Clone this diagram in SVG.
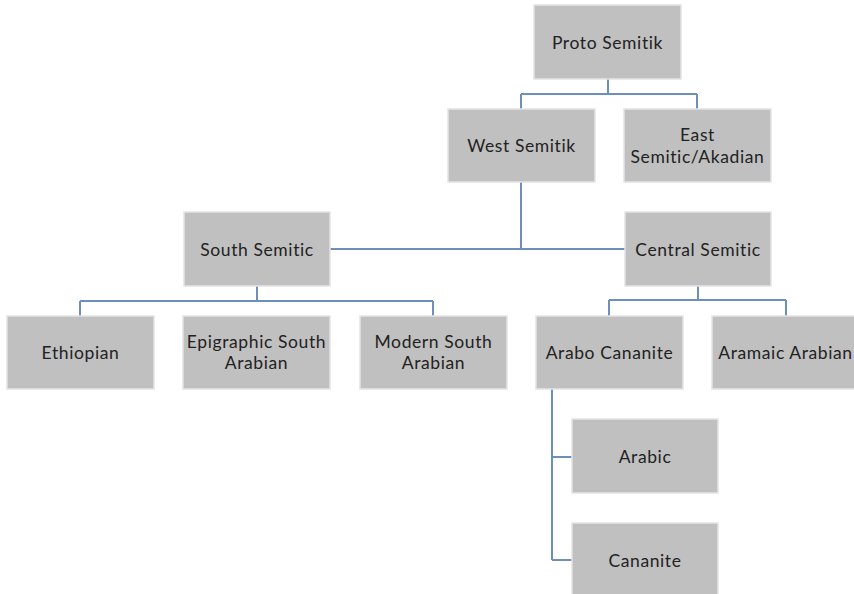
<svg xmlns="http://www.w3.org/2000/svg" width="854" height="594" viewBox="0 0 854 594">
  <style>
    .box { fill: #c0c0c0; stroke: #e4e4e4; stroke-width: 1.5; }
    .lbl { font-family: Lato, "Open Sans", "Liberation Sans", sans-serif; font-size: 17.5px; letter-spacing: 0.6px; fill: #222222; text-anchor: middle; dominant-baseline: central; }
    .edge { fill: none; stroke: #6c90bb; stroke-width: 2; }
  </style>
  <rect width="854" height="594" fill="#ffffff"/>

  <g id="connectors">
    <path class="edge" d="M608 79 V94 M521 94 H697 M521 94 V109 M697 94 V109"/>
    <path class="edge" d="M521 182 V249 M330 249 H625"/>
    <path class="edge" d="M257 286 V301 M80 301 H433 M80 301 V316 M433 301 V316"/>
    <path class="edge" d="M698 286 V300 M609 300 H786 M609 300 V316 M786 300 V316"/>
    <path class="edge" d="M552 389 V560 M552 457 H572 M552 560 H572"/>
  </g>

  <g id="proto-semitik">
    <rect class="box" x="534" y="5" width="147" height="74"/>
    <text class="lbl" x="607.5" y="42">Proto Semitik</text>
  </g>
  <g id="west-semitik">
    <rect class="box" x="448" y="109" width="147" height="73"/>
    <text class="lbl" x="521.5" y="145.5">West Semitik</text>
  </g>
  <g id="east-semitic">
    <rect class="box" x="624" y="109" width="147" height="73"/>
    <text class="lbl" x="697.5" y="134">East</text>
    <text class="lbl" x="697.5" y="156">Semitic/Akadian</text>
  </g>
  <g id="south-semitic">
    <rect class="box" x="184" y="212" width="146" height="74"/>
    <text class="lbl" x="257" y="249">South Semitic</text>
  </g>
  <g id="central-semitic">
    <rect class="box" x="625" y="212" width="146" height="74"/>
    <text class="lbl" x="698" y="249">Central Semitic</text>
  </g>
  <g id="ethiopian">
    <rect class="box" x="7" y="316" width="147" height="73"/>
    <text class="lbl" x="80.5" y="352.5">Ethiopian</text>
  </g>
  <g id="epigraphic-south-arabian">
    <rect class="box" x="183" y="316" width="147" height="73"/>
    <text class="lbl" x="256.5" y="341">Epigraphic South</text>
    <text class="lbl" x="256.5" y="362">Arabian</text>
  </g>
  <g id="modern-south-arabian">
    <rect class="box" x="360" y="316" width="147" height="73"/>
    <text class="lbl" x="433.5" y="341">Modern South</text>
    <text class="lbl" x="433.5" y="362">Arabian</text>
  </g>
  <g id="arabo-cananite">
    <rect class="box" x="536" y="316" width="147" height="73"/>
    <text class="lbl" x="609.5" y="352.5">Arabo Cananite</text>
  </g>
  <g id="aramaic-arabian">
    <rect class="box" x="712" y="316" width="147" height="73"/>
    <text class="lbl" x="785.5" y="352.5">Aramaic Arabian</text>
  </g>
  <g id="arabic">
    <rect class="box" x="572" y="419" width="146" height="74"/>
    <text class="lbl" x="645" y="456">Arabic</text>
  </g>
  <g id="cananite">
    <rect class="box" x="572" y="523" width="146" height="74"/>
    <text class="lbl" x="645" y="560">Cananite</text>
  </g>
</svg>
